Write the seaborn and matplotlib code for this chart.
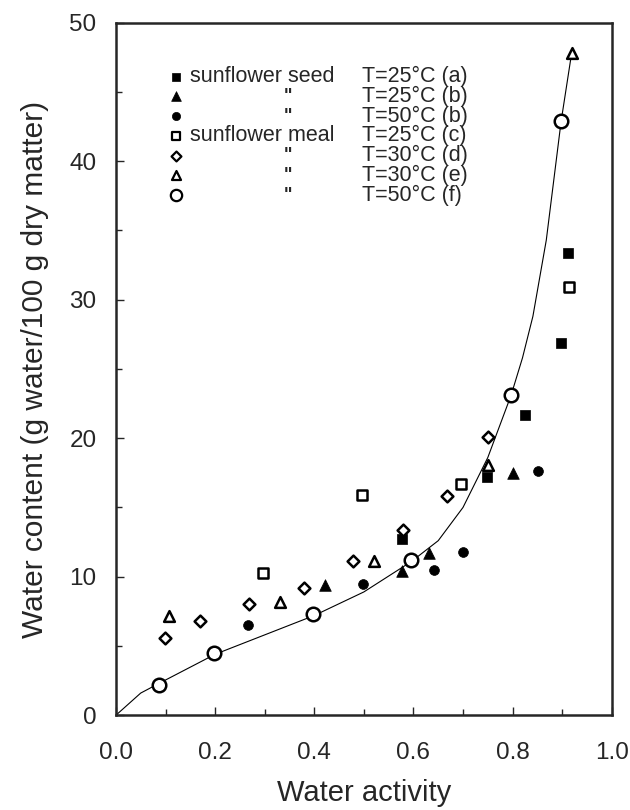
import numpy as np
import pandas as pd
import matplotlib
matplotlib.use("Agg")
import matplotlib.pyplot as plt
import seaborn as sns

# sorption isotherm data (water activity, g water/100 g dm)
seed_25a_aw = [0.578, 0.748, 0.826, 0.897, 0.912]
seed_25a_wc = [12.7, 17.2, 21.7, 26.9, 33.4]

seed_25b_aw = [0.422, 0.577, 0.632, 0.801]
seed_25b_wc = [9.4, 10.4, 11.7, 17.5]

seed_50b_aw = [0.267, 0.498, 0.642, 0.700, 0.852]
seed_50b_wc = [6.5, 9.5, 10.5, 11.8, 17.6]

meal_25c_aw = [0.296, 0.496, 0.697, 0.913]
meal_25c_wc = [10.3, 15.9, 16.7, 30.9]

meal_30d_aw = [0.099, 0.169, 0.268, 0.379, 0.479, 0.579, 0.668, 0.750]
meal_30d_wc = [5.6, 6.8, 8.0, 9.2, 11.1, 13.4, 15.8, 20.1]

meal_30e_aw = [0.108, 0.330, 0.520, 0.751, 0.920]
meal_30e_wc = [7.2, 8.2, 11.1, 18.1, 47.8]

meal_50f_aw = [0.087, 0.198, 0.398, 0.596, 0.796, 0.897]
meal_50f_wc = [2.2, 4.5, 7.3, 11.2, 23.1, 42.9]

# fitted curve
fit_aw = [0.0, 0.05, 0.087, 0.2, 0.3, 0.4, 0.5, 0.596, 0.65, 0.70, 0.75,
          0.797, 0.82, 0.841, 0.868, 0.898, 0.92]
fit_wc = [0.0, 1.6, 2.3, 4.4, 5.8, 7.2, 8.9, 11.1, 12.6, 15.0, 18.6,
          23.1, 25.8, 28.8, 34.3, 42.9, 48.0]

materials = ["sunflower seed", "", "", "sunflower meal", "", "", ""]
temps = ["T=25°C (a)", "T=25°C (b)", "T=50°C (b)", "T=25°C (c)",
         "T=30°C (d)", "T=30°C (e)", "T=50°C (f)"]

series = [
    (seed_25a_aw, seed_25a_wc, "s", True, 55),
    (seed_25b_aw, seed_25b_wc, "^", True, 70),
    (seed_50b_aw, seed_50b_wc, "o", True, 50),
    (meal_25c_aw, meal_25c_wc, "s", False, 50),
    (meal_30d_aw, meal_30d_wc, "D", False, 36),
    (meal_30e_aw, meal_30e_wc, "^", False, 60),
    (meal_50f_aw, meal_50f_wc, "o", False, 95),
]

sns.set_style("ticks")
plt.rcParams["font.family"] = ["Liberation Sans", "DejaVu Sans"]

fig = plt.figure(figsize=(6.3, 8.1), dpi=100)
ax = fig.add_axes([0.184, 0.117, 0.787, 0.855])

sns.lineplot(x=fit_aw, y=fit_wc, ax=ax, color="black", lw=0.8, sort=False)

for aw, wc, mk, filled, s in series:
    df = pd.DataFrame({"aw": aw, "wc": wc})
    sns.scatterplot(data=df, x="aw", y="wc", ax=ax, marker=mk, s=s,
                    color="black" if filled else "white",
                    edgecolor="black", linewidth=1.8 if not filled else 0.5,
                    zorder=3)

# manual legend block (key, material, ditto mark, temperature)
row_y = 0.922
for i, (aw, wc, mk, filled, s) in enumerate(series):
    y = row_y - i * 0.0285
    ax.scatter([0.121], [y], transform=ax.transAxes, marker=mk,
               s=s * 0.7, c="black" if filled else "white",
               edgecolors="black", linewidths=1.6 if not filled else 0.5,
               clip_on=False)
    if materials[i]:
        ax.text(0.150, y, materials[i], transform=ax.transAxes,
                fontsize=15.5, va="center", ha="left")
    else:
        ax.text(0.347, y, "\"", transform=ax.transAxes,
                fontsize=13, fontweight="bold", va="center", ha="center")
    ax.text(0.497, y, temps[i], transform=ax.transAxes,
            fontsize=15.5, va="center", ha="left")

ax.set_xlim(0, 1.0)
ax.set_ylim(0, 50)
ax.set_xticks(np.arange(0, 1.01, 0.2))
ax.set_xticks(np.arange(0, 1.01, 0.1), minor=True)
ax.set_yticks(np.arange(0, 51, 10))
ax.set_yticks(np.arange(0, 51, 5), minor=True)
ax.set_xticklabels(["0.0", "0.2", "0.4", "0.6", "0.8", "1.0"])
ax.tick_params(axis="both", which="both", direction="in", width=1.0)
ax.tick_params(axis="both", which="major", length=6, labelsize=17.5)
ax.tick_params(axis="both", which="minor", length=4)
ax.tick_params(axis="x", which="major", pad=19)
ax.tick_params(axis="y", which="major", pad=14)

for sp in ax.spines.values():
    sp.set_linewidth(1.8)
    sp.set_visible(True)

ax.set_xlabel("Water activity", fontsize=21, labelpad=11)
ax.set_ylabel("Water content (g water/100 g dry matter)", fontsize=21.5, labelpad=15)

fig.savefig("out.png", dpi=100)
